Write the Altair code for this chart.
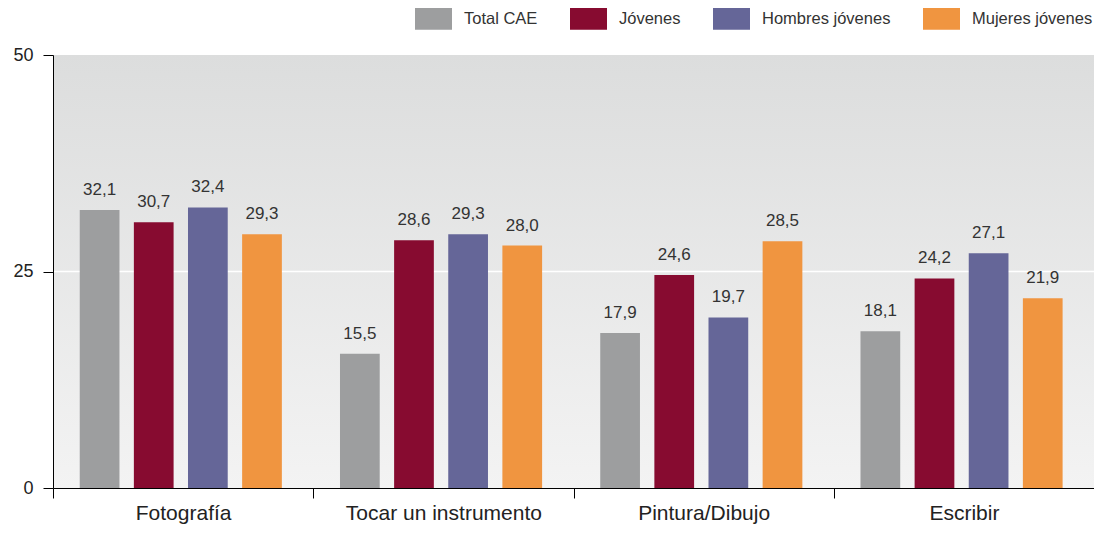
import altair as alt
import pandas as pd

categories = ["Fotografía", "Tocar un instrumento", "Pintura/Dibujo", "Escribir"]
series = ["Total CAE", "Jóvenes", "Hombres jóvenes", "Mujeres jóvenes"]
total_cae = [32.1, 15.5, 17.9, 18.1]
jovenes = [30.7, 28.6, 24.6, 24.2]
hombres = [32.4, 29.3, 19.7, 27.1]
mujeres = [29.3, 28.0, 28.5, 21.9]
colors = ["#9d9e9f", "#870b30", "#656698", "#f09540"]
y_ticks = [0, 25, 50]
grid_values = [25]

rows = []
for s, vals in zip(series, [total_cae, jovenes, hombres, mujeres]):
    for c, v in zip(categories, vals):
        rows.append({"cat": c, "serie": s, "valor": v,
                     "etiqueta": f"{v:.1f}".replace(".", ",")})
df = pd.DataFrame(rows)

W, H = 1041, 433
FONT = "Liberation Sans"

y_scale = alt.Scale(domain=[0, 50], nice=False, zero=True)
x_enc = alt.X("cat:N", sort=categories, title=None,
              scale=alt.Scale(paddingInner=0, paddingOuter=0),
              axis=alt.Axis(tickBand="extent", labelAngle=0, labelFontSize=21,
                            labelColor="#222222", labelFont=FONT, labelLimit=0,
                            tickSize=10, tickColor="black", domainColor="black",
                            labelPadding=4, zindex=1))
xoff_enc = alt.XOffset("serie:N", sort=series,
                       scale=alt.Scale(paddingInner=0.266, paddingOuter=0.537, align=0.46))

bg = alt.Chart(alt.Data(values=[{}])).mark_rect(
    fill=alt.Gradient(gradient="linear", x1=0, y1=0, x2=0, y2=1,
                      stops=[alt.GradientStop(offset=0, color="#dcdddd"),
                             alt.GradientStop(offset=1, color="#f3f3f3")])
).encode(x=alt.value(0), x2=alt.value(W), y=alt.value(0), y2=alt.value(H))

grid = alt.Chart(pd.DataFrame({"v": grid_values})).mark_rule(
    color="white", strokeWidth=1.5
).encode(y=alt.Y("v:Q", scale=y_scale))

bars = alt.Chart(df).mark_bar().encode(
    x=x_enc,
    xOffset=xoff_enc,
    y=alt.Y("valor:Q", scale=y_scale, title=None,
            axis=alt.Axis(values=y_ticks, grid=False, tickSize=10, tickColor="black",
                          domainColor="black", labelFontSize=18, labelColor="#222222",
                          labelFont=FONT, labelPadding=10, zindex=1)),
    color=alt.Color("serie:N", sort=series,
                    scale=alt.Scale(domain=series, range=colors),
                    legend=alt.Legend(title=None, orient="none", direction="horizontal",
                                      legendX=362, legendY=-55,
                                      symbolType="M-1,-0.6L1,-0.6L1,0.6L-1,0.6Z",
                                      symbolSize=1369, symbolStrokeWidth=0,
                                      symbolOpacity=1,
                                      labelFontSize=16.5, labelFont=FONT,
                                      labelColor="#333333", labelOffset=12,
                                      columnPadding=32)),
)

labels = alt.Chart(df).mark_text(
    baseline="alphabetic", dy=-15, fontSize=17, font=FONT, color="#333333"
).encode(
    x=alt.X("cat:N", sort=categories),
    xOffset=alt.XOffset("serie:N", sort=series),
    y=alt.Y("valor:Q", scale=y_scale),
    text="etiqueta:N",
)

chart = alt.layer(bg, grid, bars, labels).properties(
    width=W, height=H,
    autosize=alt.AutoSizeParams(type="none"),
    padding={"left": 45, "top": 47, "right": 0, "bottom": 36},
).configure_view(stroke=None)

chart.save("out.html", embed_options={"renderer": "svg", "actions": False})
